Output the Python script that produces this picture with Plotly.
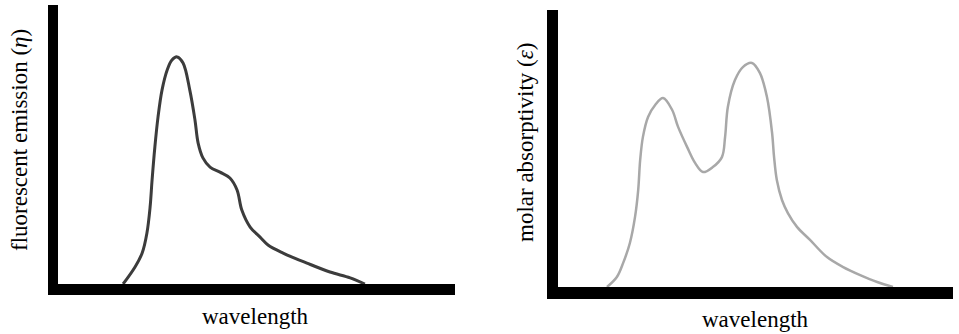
import plotly.graph_objects as go

# Emission spectrum (left panel), normalized units
em_x = [16.4, 19.4, 21.2, 22.4, 23.2, 23.7, 24.4, 25.2, 26.2, 27.5, 28.7, 30.0, 31.5, 33.2, 34.5, 35.3,
        36.5, 38.3, 40.8, 43.3, 45.1, 46.3, 48.4, 50.9, 52.9, 56.7, 62.7, 68.5, 73.6, 77.3]
em_y = [0.0, 6.1, 11.1, 18.3, 27.6, 37.3, 49.1, 59.9, 69.5, 76.7, 80.3, 81.4, 79.2, 69.5, 58.8, 50.5,
        45.2, 41.9, 40.1, 38.0, 33.7, 26.5, 20.4, 16.8, 14.0, 11.1, 7.5, 4.3, 2.2, 0.0]

# Absorption spectrum (right panel), normalized units
ab_x = [12.4, 14.9, 16.5, 18.2, 19.5, 20.3, 20.8, 21.5, 22.8, 24.6, 26.6, 28.9, 30.4, 32.7, 34.7, 36.7,
        39.2, 41.5, 42.3, 43.0, 44.8, 46.8, 49.1, 51.1, 52.9, 54.2, 54.7, 55.4, 56.7, 58.2, 60.5, 63.8,
        68.1, 72.2, 76.5, 80.8, 84.8]
ab_y = [0.0, 3.6, 8.7, 15.9, 25.3, 35.0, 45.8, 54.2, 61.4, 65.7, 68.2, 63.9, 57.8, 50.5, 44.8, 41.5,
        43.3, 46.9, 54.2, 65.0, 74.7, 79.4, 80.9, 77.3, 68.6, 55.6, 46.9, 38.6, 31.4, 26.7, 21.7, 17.0,
        10.8, 7.2, 4.3, 1.8, 0.0]

x_title = "wavelength"
y_title_left = "fluorescent emission (<i>η</i>)"
y_title_right = "molar absorptivity (<i>ε</i>)"

W, H = 959, 334
fig = go.Figure()
fig.add_trace(go.Scatter(x=em_x, y=em_y, mode="lines", line=dict(color="#3c3c3c", width=3, shape="spline"),
                         xaxis="x", yaxis="y", showlegend=False, hoverinfo="skip"))
fig.add_trace(go.Scatter(x=ab_x, y=ab_y, mode="lines", line=dict(color="#a8a8a8", width=2.5, shape="spline"),
                         xaxis="x2", yaxis="y2", showlegend=False, hoverinfo="skip"))

def px_x(p):
    return p / W

def px_y(p):
    return 1 - p / H

ax_common = dict(showgrid=False, zeroline=False, showticklabels=False, ticks="", showline=True,
                 linecolor="black", fixedrange=True)

fig.update_layout(
    width=W, height=H, margin=dict(l=0, r=0, t=0, b=0),
    paper_bgcolor="white", plot_bgcolor="white",
    font=dict(family="Liberation Serif", color="black"),
    xaxis=dict(domain=[px_x(58), px_x(455)], range=[0, 100], anchor="y", linewidth=11, **ax_common),
    yaxis=dict(domain=[px_y(284), px_y(5)], range=[0, 100], anchor="x", linewidth=10, **ax_common),
    xaxis2=dict(domain=[px_x(558), px_x(953)], range=[0, 100], anchor="y2", linewidth=12, **ax_common),
    yaxis2=dict(domain=[px_y(287), px_y(10)], range=[0, 100], anchor="x2", linewidth=11, **ax_common),
)

annots = [
    dict(text=x_title, x=px_x(255), y=px_y(316), textangle=0),
    dict(text=x_title, x=px_x(755), y=px_y(319), textangle=0),
    dict(text=y_title_left, x=px_x(19), y=px_y(140), textangle=-90),
    dict(text=y_title_right, x=px_x(525), y=px_y(143), textangle=-90),
]
for a in annots:
    fig.add_annotation(xref="paper", yref="paper", xanchor="center", yanchor="middle", showarrow=False,
                       font=dict(family="Liberation Serif", size=23, color="black"), **a)

fig.write_html("out.html", config={"displayModeBar": False},
               post_script="document.body.style.margin='0';document.body.style.overflow='hidden';")
